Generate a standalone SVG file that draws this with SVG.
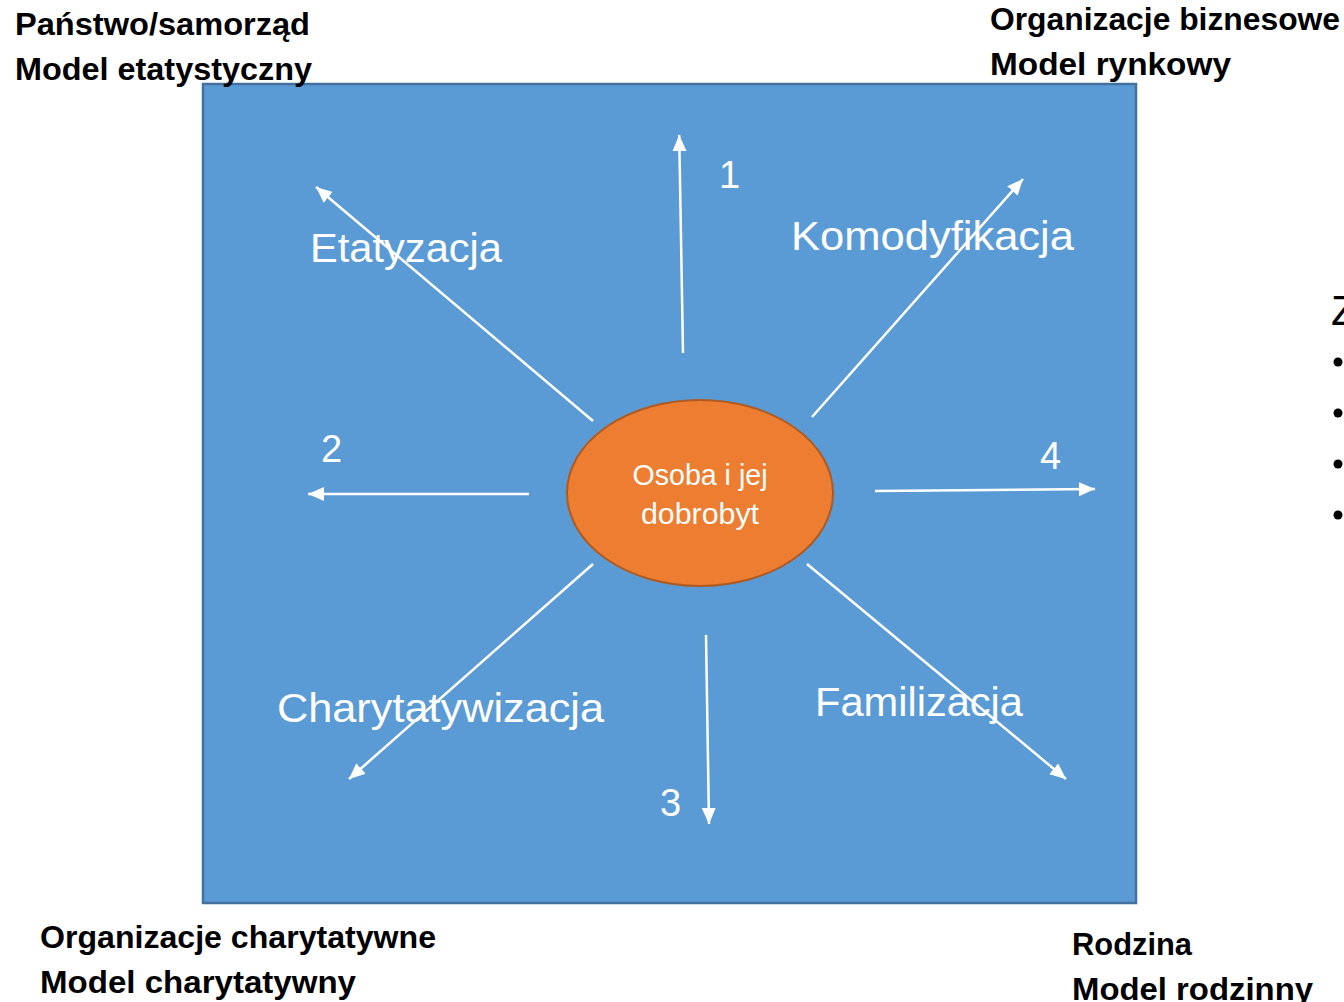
<svg xmlns="http://www.w3.org/2000/svg" width="1344" height="1002" viewBox="0 0 1344 1002">
<style>
.hd{font-family:"Liberation Sans",Arial,sans-serif;font-weight:bold;font-size:31px;fill:#000}
.lb{font-family:"Liberation Sans",Arial,sans-serif;font-size:41px;fill:#fff}
.num{font-family:"Liberation Sans",Arial,sans-serif;font-size:38px;fill:#fff}
.ct{font-family:"Liberation Sans",Arial,sans-serif;font-size:30px;fill:#fff;text-anchor:middle}
.ar{stroke:#fff;stroke-width:2.5;fill:none;marker-end:url(#ah)}
</style>
<defs>
<marker id="ah" markerUnits="userSpaceOnUse" markerWidth="18" markerHeight="16" refX="16" refY="7" orient="auto">
<path d="M0,0 L16,7 L0,14 Z" fill="#fff"/>
</marker>
</defs>
<rect width="1344" height="1002" fill="#fff"/>
<g id="frame">
<rect x="203" y="84" width="933" height="819" fill="#5B9BD5" stroke="#41719C" stroke-width="2.5"/>
</g>
<g id="connectors">
<line class="ar" x1="683" y1="353" x2="679.2" y2="135"/>
<line class="ar" x1="593" y1="421" x2="316" y2="187"/>
<line class="ar" x1="812" y1="417" x2="1023" y2="179"/>
<line class="ar" x1="529" y1="494" x2="308" y2="494"/>
<line class="ar" x1="875" y1="491" x2="1095" y2="489"/>
<line class="ar" x1="706" y1="635" x2="709" y2="824"/>
<line class="ar" x1="593" y1="564" x2="349" y2="779"/>
<line class="ar" x1="807" y1="564" x2="1066" y2="779"/>
</g>
<g id="center">
<ellipse cx="700" cy="493" rx="133" ry="93" fill="#ED7D31" stroke="#AE5A21" stroke-width="2"/>
<text class="ct" x="700" y="485" textLength="135" lengthAdjust="spacingAndGlyphs">Osoba i jej</text>
<text class="ct" x="700" y="524" textLength="118" lengthAdjust="spacingAndGlyphs">dobrobyt</text>
</g>
<g id="labels-inner">
<text class="lb" x="310" y="262" textLength="192" lengthAdjust="spacingAndGlyphs">Etatyzacja</text>
<text class="lb" x="791" y="250" textLength="283" lengthAdjust="spacingAndGlyphs">Komodyfikacja</text>
<text class="lb" x="277" y="722" textLength="327" lengthAdjust="spacingAndGlyphs">Charytatywizacja</text>
<text class="lb" x="815" y="716" textLength="208" lengthAdjust="spacingAndGlyphs">Familizacja</text>
<text class="num" x="719" y="188">1</text>
<text class="num" x="321" y="462">2</text>
<text class="num" x="660" y="816">3</text>
<text class="num" x="1040" y="469">4</text>
</g>
<g id="state">
<text class="hd" x="15" y="35" textLength="295" lengthAdjust="spacingAndGlyphs">Państwo/samorząd</text>
<text class="hd" x="15" y="80" textLength="297" lengthAdjust="spacingAndGlyphs">Model etatystyczny</text>
</g>
<g id="business">
<text class="hd" x="990" y="30" textLength="350" lengthAdjust="spacingAndGlyphs">Organizacje biznesowe</text>
<text class="hd" x="990" y="75" textLength="241" lengthAdjust="spacingAndGlyphs">Model rynkowy</text>
</g>
<g id="charity">
<text class="hd" x="40" y="948" textLength="396" lengthAdjust="spacingAndGlyphs">Organizacje charytatywne</text>
<text class="hd" x="40" y="993" textLength="316" lengthAdjust="spacingAndGlyphs">Model charytatywny</text>
</g>
<g id="family">
<text class="hd" x="1072" y="955" textLength="120" lengthAdjust="spacingAndGlyphs">Rodzina</text>
<text class="hd" x="1072" y="1000" textLength="241" lengthAdjust="spacingAndGlyphs">Model rodzinny</text>
</g>
<g id="side">
<text x="1331" y="325" font-family="Liberation Sans, Arial, sans-serif" font-size="42" fill="#000">Z</text>
<circle cx="1338" cy="362" r="4.5" fill="#000"/>
<circle cx="1338" cy="413" r="4.5" fill="#000"/>
<circle cx="1338" cy="464" r="4.5" fill="#000"/>
<circle cx="1338" cy="515" r="4.5" fill="#000"/>
</g>
</svg>
